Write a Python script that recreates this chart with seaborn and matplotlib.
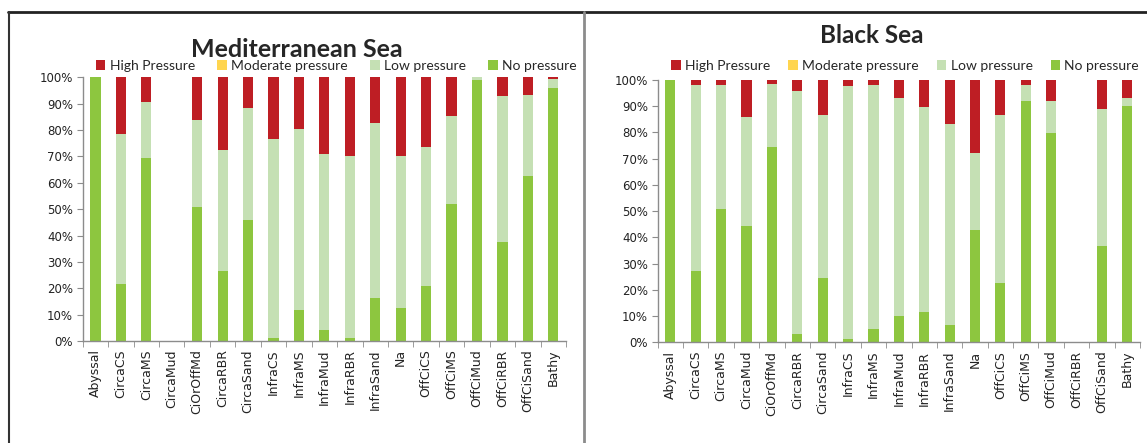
import pandas as pd
import seaborn as sns
import matplotlib.pyplot as plt
from matplotlib.patches import Patch
from matplotlib.lines import Line2D
from matplotlib.ticker import PercentFormatter, FixedLocator

habitats = ["Abyssal", "CircaCS", "CircaMS", "CircaMud", "CiOrOffMd",
            "CircaRBR", "CircaSand", "InfraCS", "InfraMS", "InfraMud",
            "InfraRBR", "InfraSand", "Na", "OffCiCS", "OffCiMS", "OffCiMud",
            "OffCiRBR", "OffCiSand", "Bathy"]
levels = ["High Pressure", "Moderate pressure", "Low pressure", "No pressure"]
level_colors = ["#BE1E24", "#FFD54F", "#C5E0B4", "#8DC63F"]

# Mediterranean Sea, share of habitat area (%)
med_no = [100, 21.5, 69.3, 0, 50.9, 26.5, 45.9, 1.0, 11.7, 4.2, 1.3, 16.5,
          12.7, 20.8, 52.0, 98.8, 37.4, 62.7, 96.0]
med_low = [0, 57.1, 21.4, 0, 32.9, 46.0, 42.3, 75.5, 68.8, 66.8, 68.9, 66.3,
           57.5, 52.7, 33.2, 1.2, 55.5, 30.7, 3.4]
med_mod = [0] * 19
med_high = [0, 21.4, 9.3, 0, 16.2, 27.5, 11.8, 23.5, 19.5, 29.0, 29.8, 17.2,
            29.8, 26.5, 14.8, 0, 7.1, 6.6, 0.6]

# Black Sea, share of habitat area (%)
bs_no = [100, 27.2, 50.9, 44.2, 74.6, 3.2, 24.6, 1.1, 4.9, 10.0, 11.4, 6.6,
         42.8, 22.7, 92.0, 79.8, 0, 36.8, 90.2]
bs_low = [0, 71.0, 47.3, 41.8, 23.9, 92.5, 62.1, 96.5, 93.2, 83.0, 78.2, 76.6,
          29.3, 64.0, 6.0, 12.3, 0, 52.3, 2.8]
bs_mod = [0] * 19
bs_high = [0, 1.8, 1.8, 14.0, 1.5, 4.3, 13.3, 2.4, 1.9, 7.0, 10.4, 16.8,
           27.9, 13.3, 2.1, 7.9, 0, 10.9, 7.0]

sns.set_style("white")
plt.rcParams["font.family"] = ["DejaVu Sans"]
axis_grey = "#8C8C8C"


def draw_panel(ax, no, low, mod, high):
    df = pd.DataFrame({"habitat": habitats, "no": no, "low": low,
                       "mod": mod, "high": high})
    df["c_no"] = df["no"] / 100
    df["c_low"] = (df["no"] + df["low"]) / 100
    df["c_mod"] = (df["no"] + df["low"] + df["mod"]) / 100
    df["c_high"] = (df["no"] + df["low"] + df["mod"] + df["high"]) / 100
    # draw totals first, then overlay the lower segments
    for col, color in zip(["c_high", "c_mod", "c_low", "c_no"], level_colors):
        sns.barplot(data=df, x="habitat", y=col, color=color, width=0.4,
                    saturation=1, errorbar=None, linewidth=0, ax=ax)
    ax.set_ylim(0, 1)
    ax.set_xlim(-0.5, len(habitats) - 0.5)
    ax.set_yticks([i / 10 for i in range(11)])
    ax.yaxis.set_major_formatter(PercentFormatter(1.0, decimals=0))
    ax.set_xlabel("")
    ax.set_ylabel("")
    ax.tick_params(axis="x", which="major", length=0, rotation=90,
                   labelsize=9, pad=6, labelcolor="#222222")
    ax.xaxis.set_minor_locator(FixedLocator(
        [i - 0.5 for i in range(len(habitats) + 1)]))
    ax.tick_params(axis="x", which="minor", length=4, color=axis_grey,
                   direction="out", bottom=True)
    ax.tick_params(axis="y", length=4, color=axis_grey, direction="out",
                   left=True, labelsize=8.5, pad=3, labelcolor="#222222")
    for side in ["top", "right"]:
        ax.spines[side].set_visible(False)
    for side in ["left", "bottom"]:
        ax.spines[side].set_color(axis_grey)
        ax.spines[side].set_linewidth(1)


fig = plt.figure(figsize=(11.47, 4.43), dpi=100)
ax_med = fig.add_axes([0.0721, 0.2302, 0.4214, 0.5953])
ax_bs = fig.add_axes([0.5734, 0.2273, 0.4205, 0.5921])

draw_panel(ax_med, med_no, med_low, med_mod, med_high)
draw_panel(ax_bs, bs_no, bs_low, bs_mod, bs_high)

fig.text(0.2585, 0.8713, "Mediterranean Sea", ha="center", va="baseline",
         fontsize=18, fontweight="bold", family=["Lato", "DejaVu Sans"])
fig.text(0.760, 0.9036, "Black Sea", ha="center", va="baseline",
         fontsize=17.5, fontweight="bold", family=["Lato", "DejaVu Sans"])

handles = [Patch(facecolor=c, edgecolor="none", label=l)
           for l, c in zip(levels, level_colors)]
for xc, yc, gap in [(0.293, 0.851, 1.6), (0.789, 0.851, 1.3)]:
    fig.legend(handles=handles, loc="center", bbox_to_anchor=(xc, yc),
               ncol=4, frameon=False, handlelength=0.7, handleheight=0.7,
               handletextpad=0.3, columnspacing=gap,
               prop={"family": ["Lato", "DejaVu Sans"], "size": 10})

# panel frames
fig.add_artist(Line2D([0.007, 1.0], [0.9722, 0.9722], color="#222222",
                      lw=2, transform=fig.transFigure))
fig.add_artist(Line2D([0.0078, 0.0078], [0.0, 0.9722], color="#333333",
                      lw=1.5, transform=fig.transFigure))
fig.add_artist(Line2D([0.5092, 0.5092], [0.0, 0.9722], color="#8C8C8C",
                      lw=2, transform=fig.transFigure))

fig.savefig("out.png", dpi=100)
